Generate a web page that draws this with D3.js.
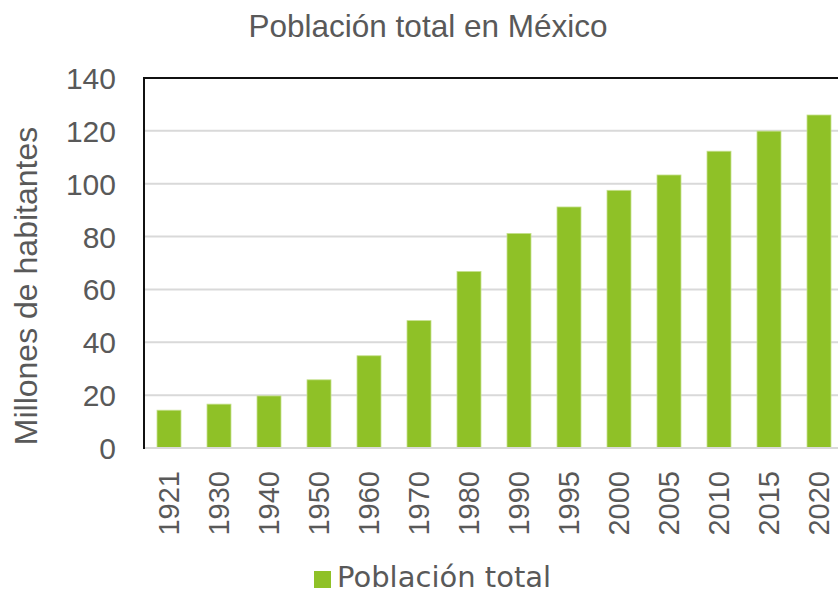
<!DOCTYPE html>
<html>
<head>
<meta charset="utf-8">
<script src="https://cdn.jsdelivr.net/npm/d3@7"></script>
<style>
  html, body { margin: 0; padding: 0; background: #fff; }
  svg { display: block; }
</style>
</head>
<body>
<svg id="chart" width="838" height="594"></svg>
<script>
// Census years and total population (millions)
const years = ["1921", "1930", "1940", "1950", "1960", "1970", "1980", "1990", "1995", "2000", "2005", "2010", "2015", "2020"];
const population = [14.3, 16.6, 19.7, 25.8, 34.9, 48.2, 66.8, 81.2, 91.2, 97.5, 103.3, 112.3, 119.9, 126.0];
const yTicks = [0, 20, 40, 60, 80, 100, 120, 140];

const title = "Población total en México";
const yLabel = "Millones de habitantes";
const legendLabel = "Población total";

const svg = d3.select("#chart");
const plotLeft = 144, plotRight = 844, plotTop = 78, plotBottom = 448;
const barColor = "#8fc127";
const textColor = "#595959";
const font = "'Liberation Sans', Arial, sans-serif";

const x = d3.scaleBand().domain(years).range([plotLeft, plotRight]).paddingInner(0.52).paddingOuter(0.26);
const y = d3.scaleLinear().domain([0, 140]).range([plotBottom, plotTop]);

// gridlines
svg.append("g")
  .selectAll("line")
  .data(yTicks.filter(t => t > 0 && t < 140))
  .join("line")
  .attr("x1", plotLeft).attr("x2", 838)
  .attr("y1", d => y(d)).attr("y2", d => y(d))
  .attr("stroke", "#d9d9d9").attr("stroke-width", 2);

// bars
svg.append("g")
  .selectAll("rect")
  .data(population)
  .join("rect")
  .attr("x", (d, i) => x(years[i]))
  .attr("width", x.bandwidth())
  .attr("y", d => y(d))
  .attr("height", d => y(0) - y(d))
  .attr("fill", barColor)
  .attr("stroke", "#c6e08e")
  .attr("stroke-width", 0.8);

// bottom axis line
svg.append("line")
  .attr("x1", plotLeft).attr("x2", 838)
  .attr("y1", plotBottom).attr("y2", plotBottom)
  .attr("stroke", "#d9d9d9").attr("stroke-width", 2);

// top frame line
svg.append("line")
  .attr("x1", plotLeft - 1).attr("x2", 838)
  .attr("y1", plotTop).attr("y2", plotTop)
  .attr("stroke", "#111").attr("stroke-width", 2);

// left axis line
svg.append("line")
  .attr("x1", plotLeft).attr("x2", plotLeft)
  .attr("y1", plotTop).attr("y2", plotBottom + 1)
  .attr("stroke", "#111").attr("stroke-width", 2);

// y axis tick labels
const yAxis = d3.axisLeft(y).tickValues(yTicks).tickSize(0).tickPadding(28);
const gy = svg.append("g").attr("transform", `translate(${plotLeft},0)`).call(yAxis);
gy.select(".domain").remove();
gy.selectAll("text")
  .attr("font-family", font).attr("font-size", 30).attr("fill", textColor)
  .attr("dy", "0.35em");

// x axis tick labels (rotated)
const xAxis = d3.axisBottom(x).tickSize(0).tickPadding(0);
const gx = svg.append("g").attr("transform", `translate(0,${plotBottom})`).call(xAxis);
gx.select(".domain").remove();
gx.selectAll("text")
  .attr("font-family", font).attr("font-size", 29).attr("fill", textColor)
  .attr("transform", "rotate(-90)")
  .attr("text-anchor", "end")
  .attr("x", -23).attr("y", 0).attr("dy", "0.36em");

// title
svg.append("text")
  .attr("x", 428).attr("y", 37)
  .attr("text-anchor", "middle")
  .attr("font-family", font).attr("font-size", 31.5).attr("fill", textColor)
  .text(title);

// y axis label
svg.append("text")
  .attr("transform", `translate(37,286) rotate(-90)`)
  .attr("text-anchor", "middle")
  .attr("font-family", font).attr("font-size", 32).attr("fill", textColor)
  .text(yLabel);

// legend
const legend = svg.append("g");
legend.append("rect")
  .attr("x", 314).attr("y", 571).attr("width", 17).attr("height", 17)
  .attr("fill", barColor);
legend.append("text")
  .attr("x", 337).attr("y", 587)
  .attr("font-family", "'DejaVu Sans', sans-serif").attr("font-size", 29).attr("fill", textColor)
  .text(legendLabel);
</script>
</body>
</html>
